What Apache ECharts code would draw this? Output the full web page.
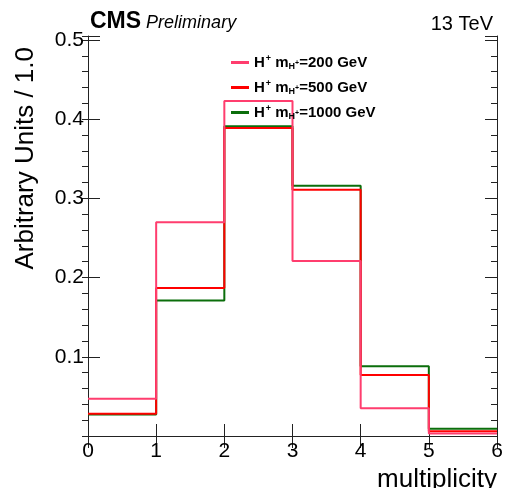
<!DOCTYPE html>
<html>
<head>
<meta charset="utf-8">
<script src="https://cdn.jsdelivr.net/npm/echarts@6/dist/echarts.min.js"></script>
<style>
  html, body { margin: 0; padding: 0; background: #fff; }
  #chart { width: 508px; height: 488px; }
</style>
</head>
<body>
<div id="chart"></div>
<script>
// bin edges of the multiplicity histogram
const binEdges = [0, 1, 2, 3, 4, 5, 6];
// charged Higgs masses (GeV)
const masses = [200, 500, 1000];
// normalised bin contents per mass point
const mass200 = [0.047, 0.270, 0.423, 0.221, 0.035, 0.003];
const mass500 = [0.028, 0.187, 0.389, 0.311, 0.077, 0.006];
const mass1000 = [0.027, 0.171, 0.391, 0.316, 0.088, 0.009];
const colors = ['#ff3d6e', '#ff0000', '#0b6e0b'];

const FONT = '"Liberation Sans", Arial, sans-serif';
const chart = echarts.init(document.getElementById('chart'));

// histogram outline: one point per bin edge, the last repeats the last bin
function stepData(values) {
  return binEdges.map((e, i) => [e, values[Math.min(i, values.length - 1)]]);
}

const names = masses.map(m => 'H+ mH+=' + m + ' GeV');
const allValues = [mass200, mass500, mass1000];

// draw 1000 first, 200 last (pink on top)
const series = [2, 1, 0].map(i => ({
  name: names[i],
  type: 'line',
  step: 'end',
  symbol: 'none',
  data: stepData(allValues[i]),
  lineStyle: { color: colors[i], width: 2 },
  itemStyle: { color: colors[i] },
  emphasis: { disabled: true }
}));

const yMax = 0.505;

const option = {
  animation: false,
  grid: { left: 88, right: 11, top: 36, bottom: 52 },
  title: [
    {
      left: 85, top: 5,
      text: '{a|CMS} {b|Preliminary}',
      textStyle: {
        rich: {
          a: { fontFamily: FONT, fontWeight: 'bold', fontSize: 23, color: '#000' },
          b: { fontFamily: FONT, fontWeight: 'normal', fontStyle: 'italic', fontSize: 18, color: '#000', padding: [3, 0, 0, 0] }
        }
      }
    },
    {
      right: 10, top: 9,
      text: '13 TeV',
      textStyle: { fontFamily: FONT, fontWeight: 'normal', fontSize: 20, color: '#000' }
    }
  ],
  legend: {
    orient: 'vertical',
    left: 226, top: 49,
    itemWidth: 18, itemHeight: 3,
    itemGap: 8,
    icon: 'rect',
    data: names,
    selectedMode: false,
    formatter: function (name) {
      const m = name.split('=')[1];
      return '{t|H}{sup|+}{t| m}{sub|H}{ssup|+}{t|=' + m + '}';
    },
    textStyle: {
      rich: {
        t: { fontFamily: FONT, fontWeight: 'bold', fontSize: 15, color: '#000' },
        sup: { fontFamily: FONT, fontWeight: 'bold', fontSize: 9, color: '#000', padding: [0, 0, 8, 1] },
        sub: { fontFamily: FONT, fontWeight: 'bold', fontSize: 9, color: '#000', padding: [8, 0, 0, 0] },
        ssup: { fontFamily: FONT, fontWeight: 'bold', fontSize: 7, color: '#000', padding: [2, 0, 0, 0] }
      }
    }
  },
  xAxis: [
    {
      type: 'value', min: 0, max: 6, interval: 1,
      axisLine: { lineStyle: { color: '#222', width: 1 } },
      axisTick: { inside: true, length: 12, lineStyle: { color: '#222' } },
      axisLabel: { fontFamily: FONT, fontSize: 21, color: '#000', margin: 5 },
      splitLine: { show: false }
    },
    {
      type: 'value', position: 'top', min: 0, max: 6, interval: 1,
      axisLine: { lineStyle: { color: '#222', width: 1 } },
      axisTick: { inside: true, length: 12, lineStyle: { color: '#222' } },
      axisLabel: { show: false },
      splitLine: { show: false }
    }
  ],
  yAxis: [
    {
      type: 'value', min: 0, max: yMax, interval: 0.1,
      axisLine: { show: true, lineStyle: { color: '#222', width: 1 } },
      axisTick: { inside: true, length: 12, lineStyle: { color: '#222' } },
      axisLabel: {
        fontFamily: FONT, fontSize: 21, color: '#000', margin: 4,
        formatter: function (v) {
          const k = Math.round(v * 10);
          return (k > 0 && Math.abs(v * 10 - k) < 1e-6) ? (k / 10).toFixed(1) : '';
        }
      },
      splitLine: { show: false }
    },
    {
      // minor ticks, left
      type: 'value', min: 0, max: yMax, interval: 0.02,
      axisLine: { show: false },
      axisTick: { inside: true, length: 6, lineStyle: { color: '#222' } },
      axisLabel: { show: false },
      splitLine: { show: false }
    },
    {
      type: 'value', position: 'right', min: 0, max: yMax, interval: 0.1,
      axisLine: { show: true, lineStyle: { color: '#222', width: 1 } },
      axisTick: { inside: true, length: 12, lineStyle: { color: '#222' } },
      axisLabel: { show: false },
      splitLine: { show: false }
    },
    {
      // minor ticks, right
      type: 'value', position: 'right', min: 0, max: yMax, interval: 0.02,
      axisLine: { show: false },
      axisTick: { inside: true, length: 6, lineStyle: { color: '#222' } },
      axisLabel: { show: false },
      splitLine: { show: false }
    }
  ],
  graphic: [
    {
      type: 'text',
      x: 26, y: 47,
      rotation: Math.PI / 2,
      style: {
        text: 'Arbitrary Units / 1.0',
        fontFamily: FONT, fontSize: 26, fill: '#000',
        align: 'right', verticalAlign: 'middle'
      }
    },
    {
      type: 'text',
      x: 497, y: 467,
      style: {
        text: 'multiplicity',
        fontFamily: FONT, fontSize: 26, fill: '#000',
        align: 'right', verticalAlign: 'top'
      }
    }
  ],
  series: series
};

chart.setOption(option);
</script>
</body>
</html>
